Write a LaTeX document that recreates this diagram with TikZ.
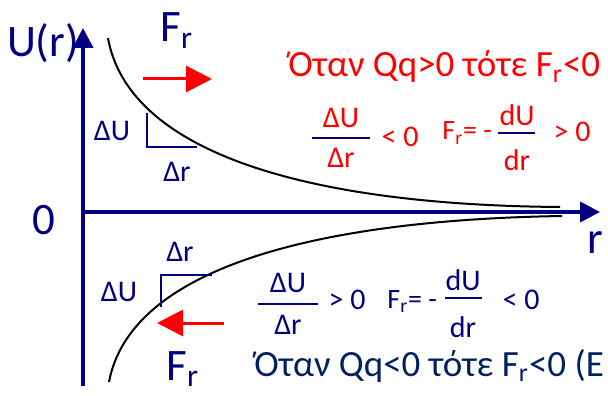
\documentclass[tikz,border=0pt]{standalone}
\usepackage{fontspec}
\setmainfont{Carlito}
\usetikzlibrary{arrows.meta}
\definecolor{axisblue}{RGB}{0,0,128}
\definecolor{textnavy}{RGB}{0,32,96}

\begin{document}
\begin{tikzpicture}[
  x=0.5pt, y=-0.5pt,
  axis/.style={draw=axisblue, line width=2pt, -{Triangle[length=10pt, width=10pt]}},
  curve/.style={draw=black, line width=1pt},
  force/.style={draw=red, line width=1.5pt, -{Triangle[length=13pt, width=13pt]}},
  tri/.style={draw=axisblue, line width=0.6pt},
  bar/.style={draw=axisblue, line width=0.8pt},
  big/.style={inner sep=0pt, text=axisblue, font=\fontsize{22.5}{27}\selectfont},
  lab/.style={inner sep=0pt, text=axisblue, font=\fontsize{15}{18}\selectfont},
  redlab/.style={inner sep=0pt, text=red, font=\fontsize{15}{18}\selectfont},
  sentence/.style={inner sep=0pt, font=\fontsize{18.5}{22}\selectfont}
]
\useasboundingbox (0,0) rectangle (608,395);

\coordinate (ybot) at (83,386);
\coordinate (ytop) at (83,28);
\coordinate (origin) at (83,212);
\coordinate (xtip) at (600,212);
\draw[axis] (ybot) -- (ytop);
\draw[axis] (origin) -- (xtip);

\node[big, anchor=base] (uaxis) at (43,57) {U(r)};
\node[big, anchor=base] (zero) at (44,234) {0};
\node[big, anchor=base west] (raxis) at (587,253) {r};

\draw[curve] (108,38) .. controls (128,150) and (300,205) .. (560,207);
\draw[curve] (109,382) .. controls (130,270) and (310,220) .. (562,216);

\coordinate (tria) at (147,113);
\coordinate (trib) at (147,147);
\coordinate (tric) at (197,147);
\draw[tri] (tria) -- (trib) -- (tric);
\node[lab] (du1) at (112,131) {ΔU};
\node[lab] (dr1) at (177,172) {Δr};

\coordinate (trid) at (161,307);
\coordinate (trie) at (161,275);
\coordinate (trif) at (212,275);
\draw[tri] (trid) -- (trie) -- (trif);
\node[lab] (du2) at (119,292) {ΔU};
\node[lab] (dr2) at (180,252) {Δr};

\coordinate (fupa) at (143,79);
\coordinate (fupb) at (212,79);
\draw[force] (fupa) -- (fupb);
\node[big, anchor=base west] (fup) at (160,42) {F\textsubscript{r}};

\coordinate (fdna) at (224,323);
\coordinate (fdnb) at (157,323);
\draw[force] (fdna) -- (fdnb);
\node[big, anchor=base west] (fdn) at (166,380) {F\textsubscript{r}};

\node[sentence, text=red, anchor=base west] (repel) at (288,77) {Όταν Qq>0 τότε F\textsubscript{r}<0};
\node[redlab] (rnum1) at (341,118) {ΔU};
\node[redlab] (rden1) at (341,158) {Δr};
\draw[bar] (312,138) -- (370,138);
\node[redlab] (rless) at (400,137) {< 0};
\node[inner sep=0pt, text=red, font=\fontsize{14}{16}\selectfont, anchor=base west] (rforce) at (442,140) {F\textsubscript{r}= -};
\node[redlab] (rnum2) at (517,115) {dU};
\node[redlab] (rden2) at (517,160) {dr};
\draw[bar] (498,133) -- (535,133);
\node[redlab] (rmore) at (572,132) {> 0};

\node[lab] (bnum1) at (288,283) {ΔU};
\node[lab] (bden1) at (288,325) {Δr};
\draw[bar] (258,304) -- (318,304);
\node[lab] (bmore) at (347,300) {> 0};
\node[inner sep=0pt, text=axisblue, font=\fontsize{14}{16}\selectfont, anchor=base west] (bforce) at (387,308) {F\textsubscript{r}= -};
\node[lab] (bnum2) at (463,280) {dU};
\node[lab] (bden2) at (463,327) {dr};
\draw[bar] (445,298) -- (482,298);
\node[lab] (bless) at (521,300) {< 0};
\node[sentence, text=textnavy, anchor=base west] (attract) at (254,376) {Όταν Qq<0 τότε F\textsubscript{r}<0 (Ε};
\end{tikzpicture}
\end{document}
